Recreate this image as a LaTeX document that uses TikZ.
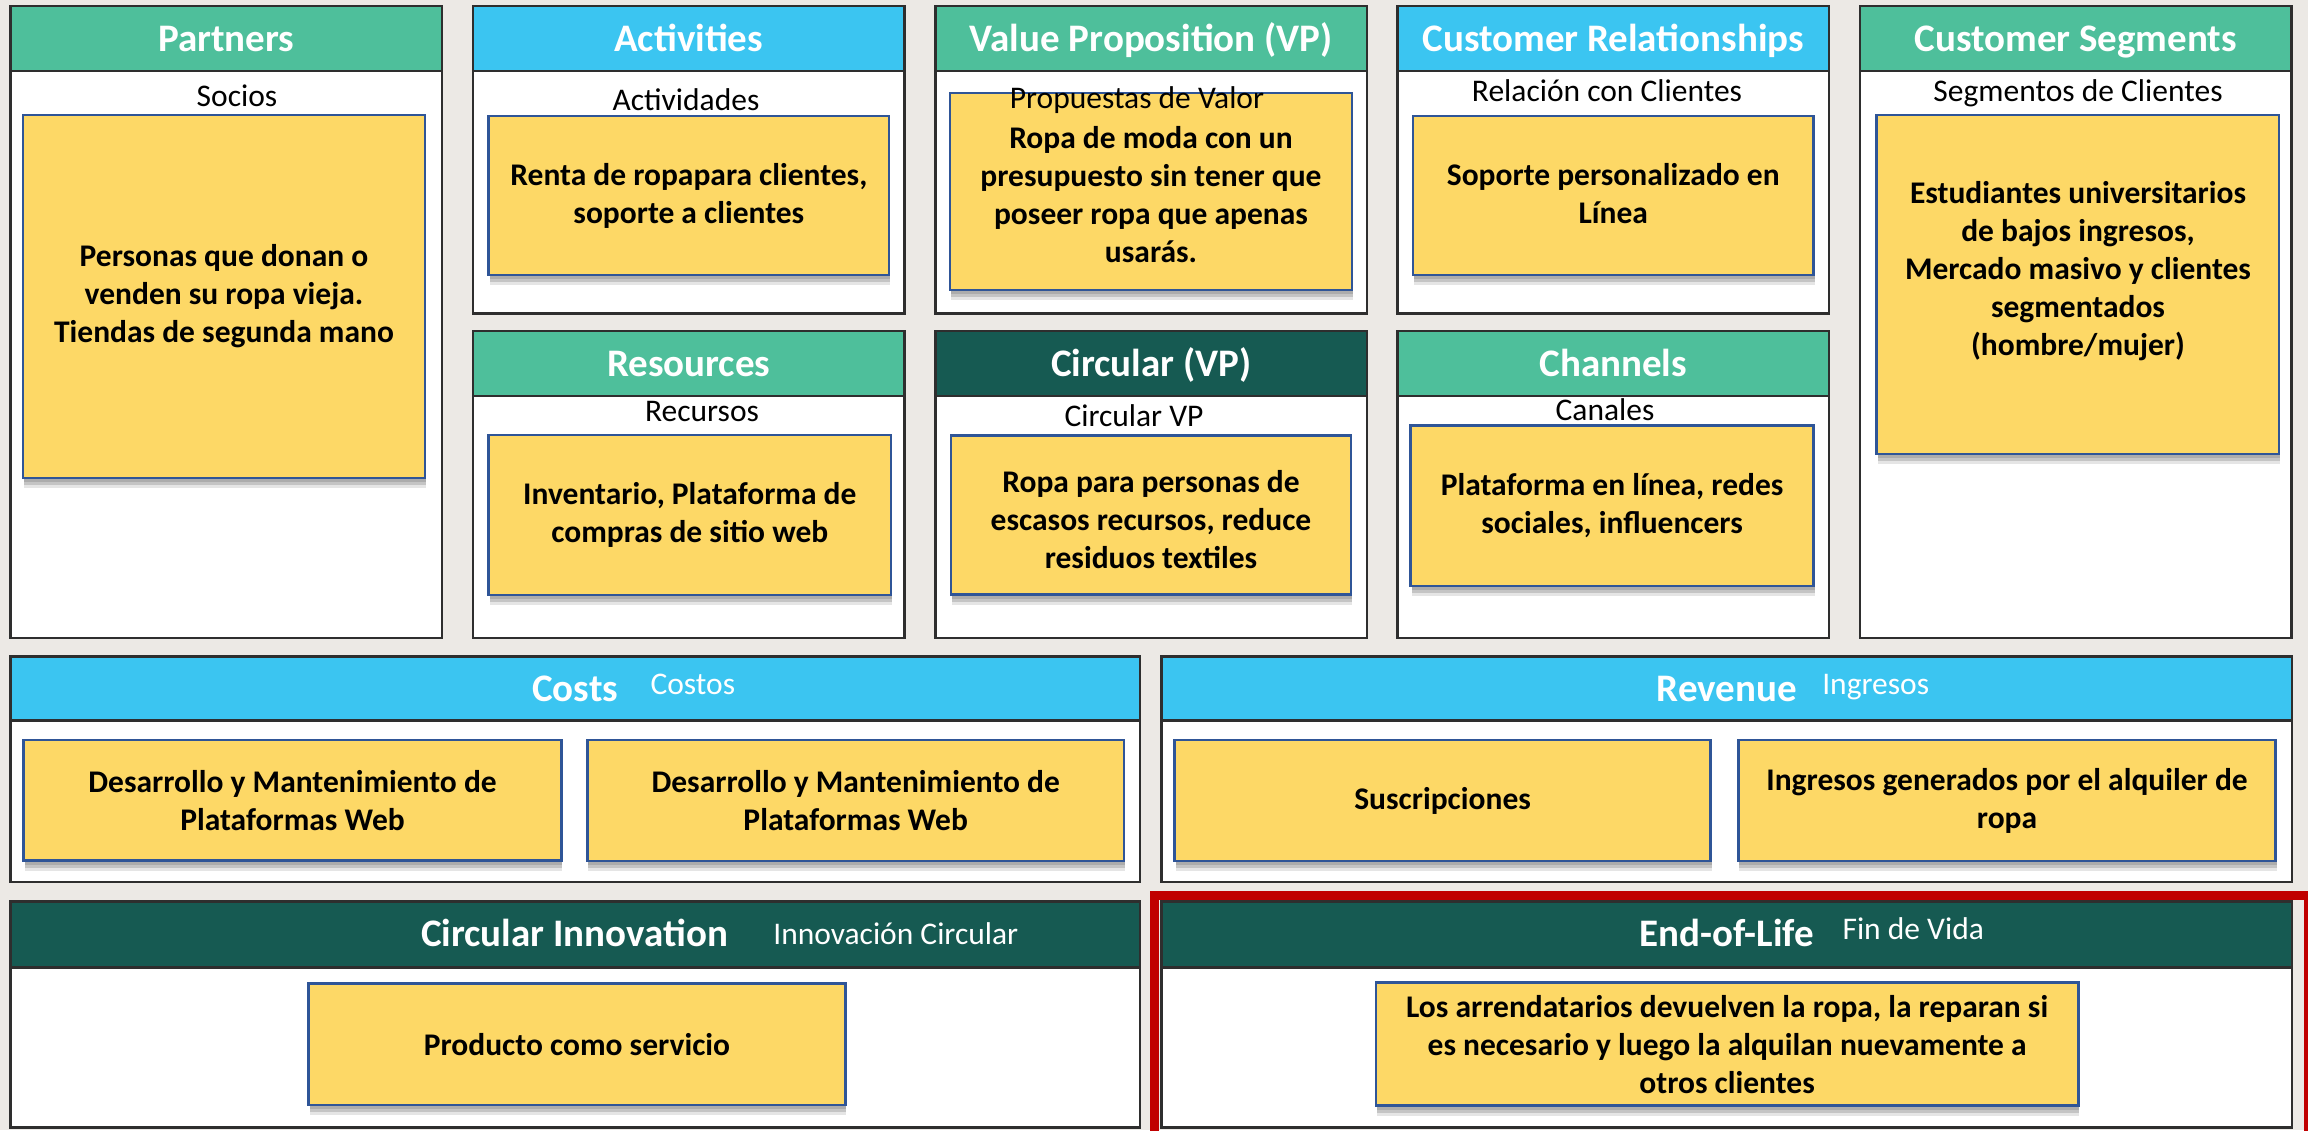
\documentclass[tikz,border=0pt]{standalone}
\usepackage{fontspec}
\setmainfont{Carlito}
\usetikzlibrary{shadows}
\definecolor{paper}{HTML}{ECE9E5}
\definecolor{frame}{HTML}{2E2E2E}
\definecolor{hgreen}{HTML}{4EBF9B}
\definecolor{hblue}{HTML}{3BC5F1}
\definecolor{hteal}{HTML}{165A52}
\definecolor{yfill}{HTML}{FDD866}
\definecolor{ybord}{HTML}{2F5597}
\definecolor{redframe}{HTML}{C00000}
\newcommand\ttlfont{\fontsize{39}{46}\selectfont\bfseries}
\newcommand\lblfont{\fontsize{31.5}{38}\selectfont}
\newcommand\bodyfont{\fontsize{31.5}{38}\selectfont\bfseries}
\begin{document}
\begin{tikzpicture}[x=1pt,y=-1pt,
  panel/.style={draw=frame, fill=white, line width=2.5pt, inner sep=0pt, outer sep=0pt, anchor=north west},
  hdr/.style={draw=frame, line width=2.5pt, inner sep=0pt, outer sep=0pt, anchor=north west, minimum height=65pt},
  ttl/.style={text=white, font=\ttlfont, inner sep=0pt, anchor=base},
  hsub/.style={text=white, font=\lblfont, inner sep=0pt, anchor=base west},
  lbl/.style={text=black, font=\lblfont, inner sep=0pt, anchor=base},
  sticky/.style={draw=ybord, fill=yfill, line width=2.5pt, inner sep=0pt, outer sep=0pt, anchor=north west,
    drop shadow={shadow xshift=1pt, shadow yshift=-4pt, opacity=0.12, fill=black},
    drop shadow={shadow xshift=1pt, shadow yshift=-7pt, opacity=0.14, fill=black},
    drop shadow={shadow xshift=1pt, shadow yshift=-10pt, opacity=0.10, fill=black}},
  body/.style={font=\bodyfont, align=center, inner sep=0pt, text=black}
]
\useasboundingbox (0,0) rectangle (2308,1130);
\clip (0,0) rectangle (2308,1130);
\fill[paper] (0,0) rectangle (2308,1130);

% ---------- panels ----------
\node[panel, minimum width=431.5pt, minimum height=632pt] (partners) at (10.5,6) {};
\node[hdr, fill=hgreen, minimum width=431.5pt] (partnersH) at (10.5,6) {};
\node[panel, minimum width=431.5pt, minimum height=307.5pt] (activities) at (473,6) {};
\node[hdr, fill=hblue, minimum width=431.5pt] (activitiesH) at (473,6) {};
\node[panel, minimum width=431.5pt, minimum height=307.5pt] (vp) at (935.5,6) {};
\node[hdr, fill=hgreen, minimum width=431.5pt] (vpH) at (935.5,6) {};
\node[panel, minimum width=431.5pt, minimum height=307.5pt] (cr) at (1397.5,6) {};
\node[hdr, fill=hblue, minimum width=431.5pt] (crH) at (1397.5,6) {};
\node[panel, minimum width=431.5pt, minimum height=632pt] (cs) at (1860,6) {};
\node[hdr, fill=hgreen, minimum width=431.5pt] (csH) at (1860,6) {};

\node[panel, minimum width=431.5pt, minimum height=307pt] (res) at (473,331) {};
\node[hdr, fill=hgreen, minimum width=431.5pt] (resH) at (473,331) {};
\node[panel, minimum width=431.5pt, minimum height=307pt] (cvp) at (935.5,331) {};
\node[hdr, fill=hteal, minimum width=431.5pt] (cvpH) at (935.5,331) {};
\node[panel, minimum width=431.5pt, minimum height=307pt] (ch) at (1397.5,331) {};
\node[hdr, fill=hgreen, minimum width=431.5pt] (chH) at (1397.5,331) {};

\node[panel, minimum width=1129.5pt, minimum height=225.5pt] (costs) at (10.5,656.7) {};
\node[hdr, fill=hblue, minimum width=1129.5pt, minimum height=64pt] (costsH) at (10.5,656.7) {};
\node[panel, minimum width=1130.3pt, minimum height=225.5pt] (rev) at (1161.7,656.7) {};
\node[hdr, fill=hblue, minimum width=1130.3pt, minimum height=64pt] (revH) at (1161.7,656.7) {};

\node[panel, minimum width=1129.5pt, minimum height=226pt] (ci) at (10.5,901.7) {};
\node[hdr, fill=hteal, minimum width=1129.5pt, minimum height=66pt] (ciH) at (10.5,901.7) {};
\node[panel, minimum width=1130.3pt, minimum height=226pt] (eol) at (1161.7,901.7) {};
\node[hdr, fill=hteal, minimum width=1130.3pt, minimum height=66pt] (eolH) at (1161.7,901.7) {};

% red highlight frame
\node[draw=redframe, line width=9pt, inner sep=0pt, anchor=north west, minimum width=1154pt, minimum height=260pt] (redbox) at (1150,890.5) {};

% ---------- header titles ----------
\node[ttl] (partnersT) at (226.25,51) {Partners};
\node[ttl] (activitiesT) at (688.75,51) {Activities};
\node[ttl] (vpT) at (1151.25,51) {Value Proposition (VP)};
\node[ttl] (crT) at (1613.25,51) {Customer Relationships};
\node[ttl] (csT) at (2075.75,51) {Customer Segments};
\node[ttl] (resT) at (688.75,376) {Resources};
\node[ttl] (cvpT) at (1151.25,376) {Circular (VP)};
\node[ttl] (chT) at (1613.25,376) {Channels};
\node[ttl] (costsT) at (575.25,701.7) {Costs};
\node[hsub] (costsS) at ([xshift=32pt,yshift=7pt]costsT.base east) {Costos};
\node[ttl] (revT) at (1726.85,701.7) {Revenue};
\node[hsub] (revS) at ([xshift=25pt,yshift=7pt]revT.base east) {Ingresos};
\node[ttl] (ciT) at (574.5,946.7) {Circular Innovation};
\node[hsub] (ciS) at ([xshift=45pt,yshift=2pt]ciT.base east) {Innovación Circular};
\node[ttl] (eolT) at (1726.85,946.7) {End-of-Life};
\node[hsub] (eolS) at ([xshift=28pt,yshift=7pt]eolT.base east) {Fin de Vida};

% ---------- sub labels ----------
\node[lbl] (sociosL) at (237,106) {Socios};
\node[lbl] (activL) at (686,110) {Actividades};
\node[lbl] (crL) at (1607,101) {Relación con Clientes};
\node[lbl] (csL) at (2078,101.7) {Segmentos de Clientes};
\node[lbl] (resL) at (702,421.7) {Recursos};
\node[lbl] (cvpL) at (1134,426) {Circular VP};
\node[lbl] (chL) at (1605,420.7) {Canales};

% ---------- sticky notes ----------
\node[sticky, minimum width=402pt, minimum height=363pt] (partnersY) at (23,115) {};
\node[body] (partnersX) at (partnersY.center) {Personas que donan o\\venden su ropa vieja.\\Tiendas de segunda mano};

\node[sticky, minimum width=400.3pt, minimum height=159pt] (activitiesY) at (488.7,116) {};
\node[body] (activitiesX) at (activitiesY.center) {Renta de ropapara clientes,\\soporte a clientes};

\node[sticky, minimum width=402pt, minimum height=197pt] (vpY) at (950,93) {};
\node[lbl] (vpL) at (1137,108) {Propuestas de Valor};
\node[body] (vpX) at ([yshift=-3pt]vpY.center) {Ropa de moda con un\\presupuesto sin tener que\\poseer ropa que apenas\\usarás.};

\node[sticky, minimum width=400.5pt, minimum height=159pt] (crY) at (1413,116) {};
\node[body] (crX) at ([yshift=2pt]crY.center) {Soporte personalizado en\\Línea};

\node[sticky, minimum width=402.3pt, minimum height=339pt] (csY) at (1876.7,115) {};
\node[body] (csX) at (2078,271) {Estudiantes universitarios\\de bajos ingresos,\\Mercado masivo y clientes\\segmentados\\(hombre/mujer)};

\node[sticky, minimum width=402.4pt, minimum height=160pt] (resY) at (488.6,435) {};
\node[body] (resX) at (resY.center) {Inventario, Plataforma de\\compras de sitio web};

\node[sticky, minimum width=400pt, minimum height=159pt] (cvpY) at (951,435.7) {};
\node[body] (cvpX) at ([yshift=-4pt]cvpY.center) {Ropa para personas de\\escasos recursos, reduce\\residuos textiles};

\node[sticky, minimum width=402.8pt, minimum height=160.3pt] (chY) at (1410.7,425.7) {};
\node[body] (chX) at (chY.center) {Plataforma en línea, redes\\sociales, influencers};

\node[sticky, minimum width=537.7pt, minimum height=120.7pt] (cost1Y) at (23.7,740) {};
\node[body] (cost1X) at (cost1Y.center) {Desarrollo y Mantenimiento de\\Plataformas Web};
\node[sticky, minimum width=536.6pt, minimum height=121pt] (cost2Y) at (587.4,740) {};
\node[body] (cost2X) at (cost2Y.center) {Desarrollo y Mantenimiento de\\Plataformas Web};

\node[sticky, minimum width=535.8pt, minimum height=121pt] (rev1Y) at (1174.7,740) {};
\node[body] (rev1X) at (rev1Y.center) {Suscripciones};
\node[sticky, minimum width=537.3pt, minimum height=121pt] (rev2Y) at (1738.4,740) {};
\node[body] (rev2X) at (rev2Y.center) {Ingresos generados por el alquiler de\\ropa};

\node[sticky, minimum width=536.6pt, minimum height=121.7pt] (ciY) at (308.7,983.3) {};
\node[body] (ciX) at (ciY.center) {Producto como servicio};

\node[sticky, minimum width=702.6pt, minimum height=123pt] (eolY) at (1375.8,982.7) {};
\node[body] (eolX) at (eolY.center) {Los arrendatarios devuelven la ropa, la reparan si\\es necesario y luego la alquilan nuevamente a\\otros clientes};
\end{tikzpicture}
\end{document}
